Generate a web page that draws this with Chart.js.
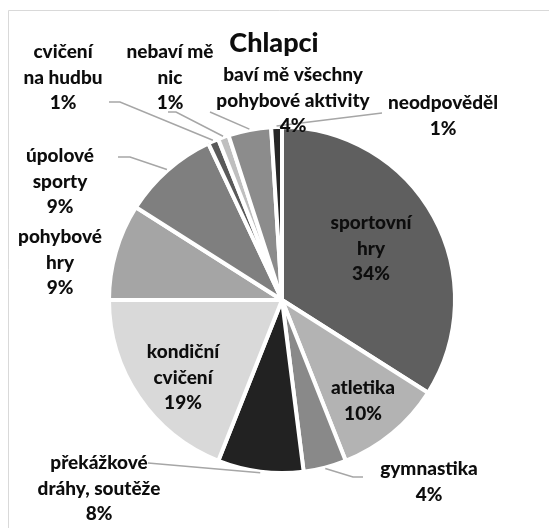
<!DOCTYPE html>
<html lang="cs">
<head>
<meta charset="utf-8">
<title>Chlapci</title>
<script src="https://cdn.jsdelivr.net/npm/chart.js@4/dist/chart.umd.min.js"></script>
<style>
  html, body { margin: 0; padding: 0; background: #ffffff; }
  #wrap { position: relative; width: 549px; height: 528px; }
</style>
</head>
<body>
<div id="wrap"><canvas id="chart" width="549" height="528"></canvas></div>
<script>
// Oblíbené pohybové aktivity – chlapci (podíl odpovědí v %)
const title = 'Chlapci';
const categories = [
  'sportovní hry', 'atletika', 'gymnastika', 'překážkové dráhy, soutěže',
  'kondiční cvičení', 'pohybové hry', 'úpolové sporty', 'cvičení na hudbu',
  'nebaví mě nic', 'baví mě všechny pohybové aktivity', 'neodpověděl'
];
const values = [34, 10, 4, 8, 19, 9, 9, 1, 1, 4, 1];

// Zalomení popisků do řádků (bez procent)
const labelLines = [
  ['sportovní', 'hry'], ['atletika'], ['gymnastika'], ['překážkové', 'dráhy, soutěže'],
  ['kondiční', 'cvičení'], ['pohybové', 'hry'], ['úpolové', 'sporty'], ['cvičení', 'na hudbu'],
  ['nebaví mě', 'nic'], ['baví mě všechny', 'pohybové aktivity'], ['neodpověděl']
];

const sliceColors = [
  '#5f5f5f', '#b3b3b3', '#898989', '#222222', '#d9d9d9', '#a5a5a5',
  '#7f7f7f', '#595959', '#bfbfbf', '#8c8c8c', '#262626'
];

// Umístění popisků: střed prvního řádku
const labelPos = [
  [371, 223], [363, 388], [429, 469], [99, 463], [183, 352], [60, 237],
  [60, 156], [63, 52], [170, 52], [293, 75], [443, 103]
];
// Odkazové čáry: počátek u popisku a případný zlom; konec leží na výseči
const leaders = [
  null, null,
  { from: [363, 477], elbow: [353, 477] },
  { from: [148, 463] },
  null, null,
  { from: [118, 157], elbow: [130, 157] },
  { from: [109, 102], elbow: [120, 102] },
  { from: [168, 112], elbow: [176, 112] },
  { from: [210, 112] },
  { from: [382, 113] }
];

const FONT = 'Lato, "Open Sans", "DejaVu Sans", sans-serif';
const LINE_H = 25.5;

const decorPlugin = {
  id: 'decor',
  beforeDraw(chart) {
    const ctx = chart.ctx;
    ctx.save();
    ctx.fillStyle = '#ffffff';
    ctx.fillRect(0, 0, chart.width, chart.height);
    ctx.strokeStyle = '#d9d9d9';
    ctx.lineWidth = 1;
    ctx.beginPath();
    ctx.moveTo(8.5, chart.height + 2);
    ctx.lineTo(8.5, 10.5);
    ctx.lineTo(chart.width + 2, 10.5);
    ctx.stroke();
    ctx.restore();
  },
  afterDraw(chart) {
    const ctx = chart.ctx;
    const arcs = chart.getDatasetMeta(0).data;
    ctx.save();
    // odkazové čáry
    ctx.strokeStyle = '#a6a6a6';
    ctx.lineWidth = 1.5;
    arcs.forEach((arc, i) => {
      const ld = leaders[i];
      if (!ld) return;
      const p = arc.getProps(['x', 'y', 'startAngle', 'endAngle', 'outerRadius'], true);
      const mid = (p.startAngle + p.endAngle) / 2;
      const r = p.outerRadius + 1;
      const ex = p.x + Math.cos(mid) * r;
      const ey = p.y + Math.sin(mid) * r;
      ctx.beginPath();
      ctx.moveTo(ld.from[0], ld.from[1]);
      if (ld.elbow) ctx.lineTo(ld.elbow[0], ld.elbow[1]);
      ctx.lineTo(ex, ey);
      ctx.stroke();
    });
    // popisky
    ctx.fillStyle = '#0d0d0d';
    ctx.textAlign = 'center';
    ctx.textBaseline = 'middle';
    ctx.font = '900 19px ' + FONT;
    labelLines.forEach((lines, i) => {
      const all = lines.concat([values[i] + '%']);
      const [x, y] = labelPos[i];
      all.forEach((t, k) => ctx.fillText(t, x, y + k * LINE_H));
    });
    // nadpis
    ctx.font = '900 27px ' + FONT;
    ctx.fillText(title, 274, 43);
    ctx.restore();
  }
};

new Chart(document.getElementById('chart'), {
  type: 'pie',
  data: {
    labels: categories,
    datasets: [{
      data: values,
      backgroundColor: sliceColors,
      borderColor: '#ffffff',
      borderWidth: 4
    }]
  },
  options: {
    responsive: false,
    animation: false,
    layout: { padding: { left: 107, top: 125, right: 92, bottom: 53 } },
    plugins: {
      legend: { display: false },
      tooltip: { enabled: false },
      title: { display: false }
    }
  },
  plugins: [decorPlugin]
});
</script>
</body>
</html>
